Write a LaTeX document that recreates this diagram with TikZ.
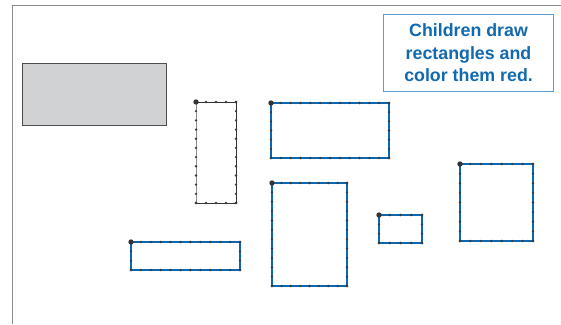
\documentclass[tikz,border=0pt]{standalone}
\usepackage{fontspec}
\setmainfont{Liberation Sans}
\usetikzlibrary{positioning}

\definecolor{lineblue}{HTML}{0B67B2}
\definecolor{boxblue}{HTML}{5A9BD3}
\definecolor{textblue}{HTML}{1169B0}
\definecolor{shapegray}{HTML}{D1D2D4}
\definecolor{dotgray}{HTML}{3A3A3A}

\begin{document}
\begin{tikzpicture}[x=1pt,y=-1pt,
  outline/.style={draw=lineblue,line width=2.1pt},
  griddot/.style={fill=dotgray},
  cornerdot/.style={fill=dotgray!90!black}]
\useasboundingbox (0,0) rectangle (561,324);

% Page frame
\draw[black!45,line width=1pt] (561,5) -- (12,5) -- (12,324);

% Model rectangle
\node[draw=black!70,fill=shapegray,line width=1pt,minimum width=144pt,minimum height=62pt,inner sep=0pt,anchor=north west] (model) at (22,63) {};

% Instruction box
\node[draw=boxblue,line width=1.1pt,text=textblue,font=\bfseries\fontsize{17.8}{22.5}\selectfont,align=center,minimum width=170pt,minimum height=77pt,inner sep=0pt,anchor=north west] (note) at (383,14) {Children draw\\rectangles and\\color them red.};

% Worked example on the dot grid
\draw[black!45,line width=1pt] (196,203) -- (196,102);
\draw[black!80,line width=1pt] (196,102) -- (236,102) -- (236,203) -- (196,203);

% Rectangles drawn by children
\foreach \xa/\ya/\xb/\yb in {271/103/389/158, 272/183/347/286, 131/242/240/270, 379/215/422/243, 460/164/533/241}
{
  \draw[outline] (\xa,\ya) rectangle (\xb,\yb);
}

% Dots along the sides
\foreach \xa/\ya/\xb/\yb/\nx/\ny in {196/102/236/203/4/11, 271/103/389/158/12/6, 272/183/347/286/8/11, 131/242/240/270/11/3, 379/215/422/243/4/3, 460/164/533/241/7/8}
{
  \foreach \i in {0,...,\nx}
  {
    \fill[griddot] ({\xa+\i*(\xb-\xa)/\nx},\ya) circle (1.3pt);
    \fill[griddot] ({\xa+\i*(\xb-\xa)/\nx},\yb) circle (1.3pt);
  }
  \foreach \j in {0,...,\ny}
  {
    \fill[griddot] (\xa,{\ya+\j*(\yb-\ya)/\ny}) circle (1.3pt);
    \fill[griddot] (\xb,{\ya+\j*(\yb-\ya)/\ny}) circle (1.3pt);
  }
  \fill[cornerdot] (\xa,\ya) circle (2.7pt);
}
\end{tikzpicture}
\end{document}
